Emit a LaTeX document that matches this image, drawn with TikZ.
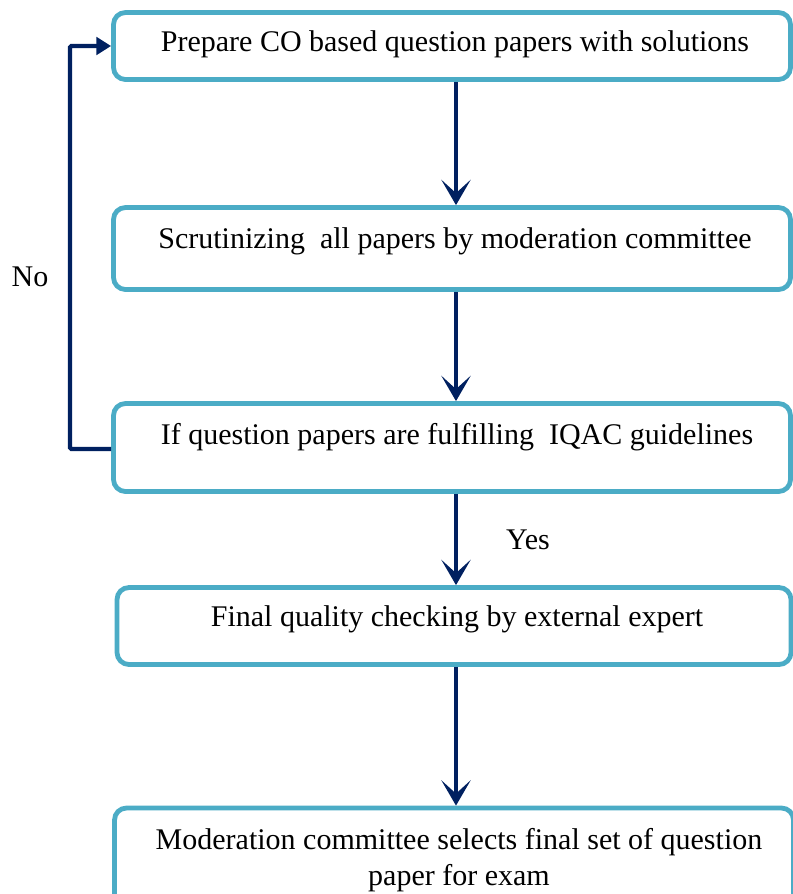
\documentclass[tikz,border=0pt]{standalone}
\usepackage{fontspec}
\setmainfont{Liberation Serif}
\usetikzlibrary{arrows.meta}
\definecolor{boxline}{HTML}{4BACC6}
\definecolor{flow}{HTML}{002060}
\begin{document}
\begin{tikzpicture}[x=0.75pt,y=-0.75pt,
  stepbox/.style={draw=boxline, line width=3.6pt, rounded corners=9pt, fill=white},
  steptext/.style={font=\fontsize{22.5}{27}\selectfont, text=black, align=center, inner sep=0pt},
  flowarrow/.style={draw=flow, line width=3.2pt,
    -{Stealth[length=19pt, width=22pt, inset=10pt]}},
  backarrow/.style={draw=flow, line width=3.2pt,
    -{Triangle[length=11pt, width=13pt]}}]
  \clip (0,0) rectangle (793,894);

  % process boxes
  \node[stepbox, minimum width=677*0.75pt, minimum height=67*0.75pt] (b1) at (452,46) {};
  \node[stepbox, minimum width=677*0.75pt, minimum height=82*0.75pt] (b2) at (452,248.5) {};
  \node[stepbox, minimum width=677*0.75pt, minimum height=88*0.75pt] (b3) at (452,447.5) {};
  \node[stepbox, minimum width=674*0.75pt, minimum height=77*0.75pt] (b4) at (454,626) {};
  \node[stepbox, minimum width=679*0.75pt, minimum height=110*0.75pt] (b5) at (454,863) {};

  % box texts
  \node[steptext] (t1) at (455,44) {Prepare CO based question papers with solutions};
  \node[steptext] (t2) at (455,241) {Scrutinizing\ \ all papers by moderation committee};
  \node[steptext] (t3) at (457,437) {If question papers are fulfilling\ \ IQAC guidelines};
  \node[steptext] (t4) at (457,619) {Final quality checking by external expert};
  \node[steptext, font=\fontsize{22.5}{27}\selectfont] (t5) at (459,860)
    {Moderation committee selects final set of question\\paper for exam};

  % main flow
  \draw[flowarrow] (b1.south -| 456,0) -- (b2.north -| 456,0);
  \draw[flowarrow] (b2.south -| 456,0) -- (b3.north -| 456,0);
  \draw[flowarrow] (b3.south -| 456,0) -- (b4.north -| 456,0);
  \draw[flowarrow] (b4.south -| 456,0) -- (b5.north -| 456,0);

  % rework loop
  \coordinate (loopL) at (70,449);
  \draw[backarrow, rounded corners=1pt] (b3.west |- loopL) -- (loopL) -- (70,46) -- (b1.west |- 0,46);

  % labels
  \node[steptext] (no) at (30,277) {No};
  \node[steptext] (yes) at (528,540) {Yes};
\end{tikzpicture}
\end{document}
